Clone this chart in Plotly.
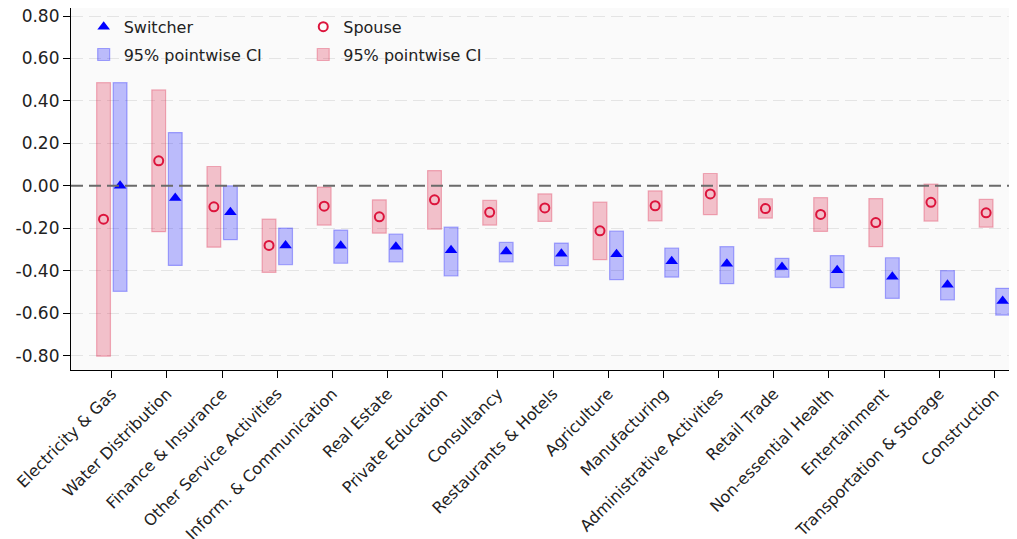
import plotly.graph_objects as go

font_family = "DejaVu Sans"
switcher_color = "blue"
spouse_color = "crimson"

sectors = [
    "Electricity & Gas", "Water Distribution", "Finance & Insurance",
    "Other Service Activities", "Inform. & Communication", "Real Estate",
    "Private Education", "Consultancy", "Restaurants & Hotels", "Agriculture",
    "Manufacturing", "Administrative Activities", "Retail Trade",
    "Non-essential Health", "Entertainment", "Transportation & Storage",
    "Construction",
]

# point estimates
switcher_est = [0.00, -0.058, -0.124, -0.281, -0.282, -0.287, -0.304, -0.309, -0.320,
                -0.322, -0.356, -0.367, -0.383, -0.398, -0.428, -0.466, -0.543]
spouse_est = [-0.157, 0.118, -0.099, -0.281, -0.096, -0.146, -0.066, -0.125, -0.104,
              -0.212, -0.094, -0.038, -0.107, -0.135, -0.173, -0.078, -0.127]

# 95% pointwise confidence bounds
switcher_lo = [-0.497, -0.375, -0.254, -0.372, -0.365, -0.359, -0.425, -0.359, -0.376,
               -0.442, -0.430, -0.461, -0.431, -0.480, -0.530, -0.538, -0.609]
switcher_hi = [0.486, 0.251, 0.000, -0.199, -0.209, -0.227, -0.195, -0.267, -0.270,
               -0.213, -0.293, -0.287, -0.342, -0.329, -0.339, -0.400, -0.483]
spouse_lo = [-0.803, -0.216, -0.289, -0.408, -0.185, -0.223, -0.204, -0.185, -0.168,
             -0.348, -0.165, -0.136, -0.152, -0.215, -0.287, -0.166, -0.195]
spouse_hi = [0.486, 0.452, 0.091, -0.157, -0.006, -0.066, 0.072, -0.069, -0.038,
             -0.077, -0.024, 0.058, -0.061, -0.056, -0.060, 0.008, -0.064]

y_ticks = [0.8, 0.6, 0.4, 0.2, 0.0, -0.2, -0.4, -0.6, -0.8]
y_ticktext = [f"{v:.2f}" for v in y_ticks]

offset = 0.15
bar_width = 0.25
spouse_x = [i - offset for i in range(len(sectors))]
switcher_x = [i + offset for i in range(len(sectors))]

fig = go.Figure()

# CI boxes
fig.add_trace(go.Bar(
    x=spouse_x, y=[h - l for h, l in zip(spouse_hi, spouse_lo)], base=spouse_lo,
    width=bar_width, name="95% pointwise CI", legend="legend2", legendrank=2, legendgroup="sp_ci",
    marker=dict(color="rgba(220,20,60,0.25)", line=dict(color="rgba(220,20,60,0.3)", width=1.2)),
))
fig.add_trace(go.Bar(
    x=switcher_x, y=[h - l for h, l in zip(switcher_hi, switcher_lo)], base=switcher_lo,
    width=bar_width, name="95% pointwise CI", legend="legend", legendrank=2, legendgroup="sw_ci",
    marker=dict(color="rgba(0,0,255,0.25)", line=dict(color="rgba(0,0,255,0.3)", width=1.2)),
))

# point estimates
fig.add_trace(go.Scatter(
    x=spouse_x, y=spouse_est, mode="markers", name="Spouse", legend="legend2", legendrank=1,
    legendgroup="sp",
    marker=dict(symbol="circle-open", size=9, color=spouse_color, line=dict(width=2)),
))
fig.add_trace(go.Scatter(
    x=switcher_x, y=switcher_est, mode="markers", name="Switcher", legend="legend", legendrank=1,
    legendgroup="sw",
    marker=dict(symbol="triangle-up", size=11, color=switcher_color),
))

fig.add_hline(y=0, line=dict(color="#6a6a6a", width=2, dash="12px,6px"), layer="above")

legend_style = dict(
    font=dict(family=font_family, size=16, color="#222222"),
    bgcolor="rgba(0,0,0,0)", yanchor="top", xanchor="left",
    tracegroupgap=4, itemwidth=30,
)

# the page body adds an 8px offset, so the figure is sized 8px smaller each way
fig.update_layout(
    width=1009,
    height=531,
    font=dict(family=font_family, size=16, color="#222222"),
    paper_bgcolor="white",
    plot_bgcolor="#fafafa",
    margin=dict(l=63, r=0, t=0, b=169),
    barmode="overlay",
    showlegend=True,
    legend=dict(x=0.0134, y=0.995, **legend_style),
    legend2=dict(x=0.2455, y=0.995, **legend_style),
    xaxis=dict(
        range=[-0.74, 16.41],
        tickvals=list(range(len(sectors))),
        ticktext=sectors,
        tickangle=-45,
        tickfont=dict(family=font_family, size=16, color="#222222"),
        ticklabeloverflow="allow",
        showgrid=False, zeroline=False, automargin=False,
        showline=True, linecolor="black", linewidth=1.2,
        ticks="outside", ticklen=7, tickcolor="black",
    ),
    yaxis=dict(
        range=[-0.868, 0.838],
        tickvals=y_ticks,
        ticktext=y_ticktext,
        tickfont=dict(family=font_family, size=17, color="#222222"),
        ticklabeloverflow="allow",
        showgrid=True, gridcolor="#e4e4e4", griddash="12px,6px", gridwidth=1.2,
        zeroline=False, automargin=False,
        showline=True, linecolor="black", linewidth=1.2,
        ticks="outside", ticklen=7, tickcolor="black",
    ),
)

fig.write_html("out.html")
